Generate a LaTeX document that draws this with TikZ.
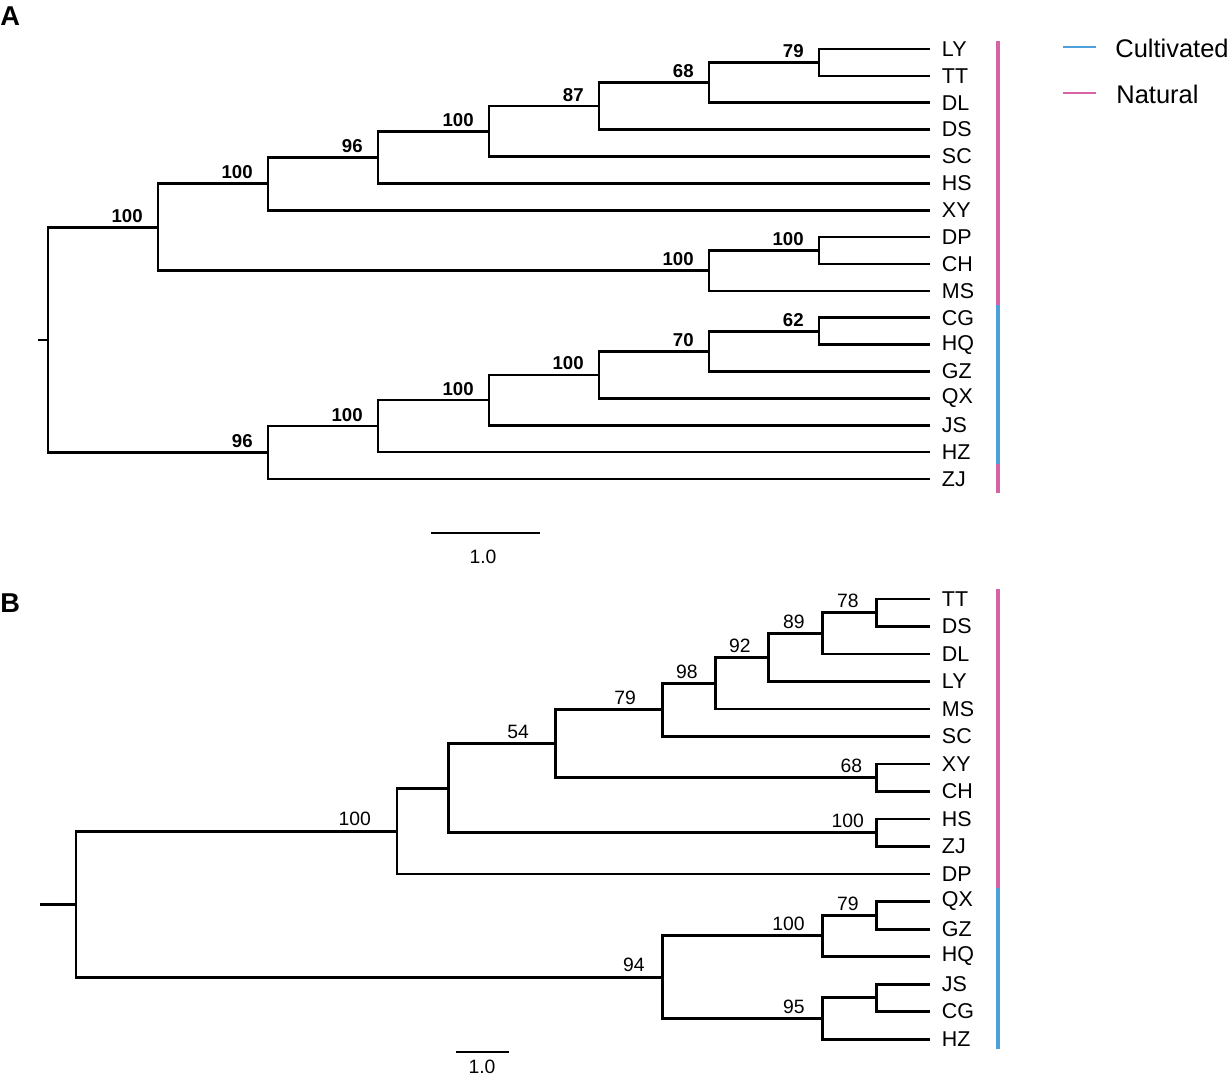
\documentclass[tikz,border=0pt]{standalone}
\usepackage{fontspec}
\setmainfont{Liberation Sans}
\usepackage{tikz}
\usetikzlibrary{calc}
\definecolor{cultblue}{RGB}{78,160,218}
\definecolor{natpink}{RGB}{214,98,168}
\tikzset{
  branch/.style={line width=1.5pt,line join=miter},
  leaf/.style={anchor=west,inner xsep=6.6pt,inner ysep=0pt,font=\fontsize{12.2}{14}\selectfont},
  boot/.style={anchor=south east,inner sep=2pt,xshift=-6pt,font=\bfseries\fontsize{10.6}{12}\selectfont},
  bootb/.style={anchor=south east,inner sep=2pt,xshift=-7pt,font=\fontsize{11}{12}\selectfont},
  panel/.style={anchor=west,inner sep=0pt,font=\bfseries\fontsize{15.5}{17}\selectfont},
  groupbar/.style={line width=2pt}
}
\begin{document}
\begin{tikzpicture}[x=0.02cm,y=-0.02cm]
\useasboundingbox (0,0) rectangle (1230,1077);
\node[panel] (pA) at (0,16) {A};
\node[panel] (pB) at (0,603) {B};
% tree A leaves
\foreach \nm [count=\i from 0] in {LY,TT,DL,DS,SC,HS,XY,DP,CH,MS,CG,HQ,GZ,QX,JS,HZ,ZJ}
\node[leaf] (a\nm) at (930,{49+26.875*\i}) {\nm};
% tree A inner nodes
\coordinate (a1) at (819,62.45);
\coordinate (a2) at (709,82.6);
\coordinate (a3) at (599,106.1);
\coordinate (a4) at (489,131.3);
\coordinate (a5) at (378,157.35);
\coordinate (a6) at (268,183.8);
\coordinate (a7) at (819,250.55);
\coordinate (a8) at (709,270.7);
\coordinate (a9) at (158,227.25);
\coordinate (a10) at (819,331.2);
\coordinate (a11) at (709,351.35);
\coordinate (a12) at (599,374.9);
\coordinate (a13) at (489,400.1);
\coordinate (a14) at (378,426.1);
\coordinate (a15) at (268,452.55);
\coordinate (aroot) at (48,339.9);
\coordinate (atick) at (38,339.9);
\draw[line width=1pt] (atick) -- (aroot);
\draw[branch] (aroot) |- (a9) node[boot] {100};
\draw[branch] (aroot) |- (a15) node[boot] {96};
\draw[branch] (a9) |- (a6) node[boot] {100};
\draw[branch] (a9) |- (a8) node[boot] {100};
\draw[branch] (a6) |- (a5) node[boot] {96};
\draw[branch] (a6) |- (aXY.west);
\draw[branch] (a5) |- (a4) node[boot] {100};
\draw[branch] (a5) |- (aHS.west);
\draw[branch] (a4) |- (a3) node[boot] {87};
\draw[branch] (a4) |- (aSC.west);
\draw[branch] (a3) |- (a2) node[boot] {68};
\draw[branch] (a3) |- (aDS.west);
\draw[branch] (a2) |- (a1) node[boot] {79};
\draw[branch] (a2) |- (aDL.west);
\draw[branch] (a1) |- (aLY.west);
\draw[branch] (a1) |- (aTT.west);
\draw[branch] (a8) |- (a7) node[boot] {100};
\draw[branch] (a8) |- (aMS.west);
\draw[branch] (a7) |- (aDP.west);
\draw[branch] (a7) |- (aCH.west);
\draw[branch] (a15) |- (a14) node[boot] {100};
\draw[branch] (a15) |- (aZJ.west);
\draw[branch] (a14) |- (a13) node[boot] {100};
\draw[branch] (a14) |- (aHZ.west);
\draw[branch] (a13) |- (a12) node[boot] {100};
\draw[branch] (a13) |- (aJS.west);
\draw[branch] (a12) |- (a11) node[boot] {70};
\draw[branch] (a12) |- (aQX.west);
\draw[branch] (a11) |- (a10) node[boot] {62};
\draw[branch] (a11) |- (aGZ.west);
\draw[branch] (a10) |- (aCG.west);
\draw[branch] (a10) |- (aHQ.west);
% scale A
\draw[line width=1.5pt] (431,533) -- (540,533);
\node[font=\fontsize{11}{12}\selectfont] (sA) at (483,557) {1.0};
% groups A
\draw[groupbar,natpink] (998,41) -- (998,305);
\draw[groupbar,cultblue] (998,305) -- (998,464);
\draw[groupbar,natpink] (998,464) -- (998,493);
% legend
\draw[line width=1.4pt,cultblue] (1063,47) -- (1096,47);
\node[anchor=west,inner sep=0pt,font=\fontsize{14.5}{16}\selectfont] (lcult) at (1115,48) {Cultivated};
\draw[line width=1.4pt,natpink] (1063,93) -- (1096,93);
\node[anchor=west,inner sep=0pt,font=\fontsize{14.5}{16}\selectfont] (lnat) at (1116,94) {Natural};
% tree B leaves
\foreach \nm [count=\i from 0] in {TT,DS,DL,LY,MS,SC,XY,CH,HS,ZJ,DP,QX,GZ,HQ,JS,CG,HZ}
\node[leaf] (b\nm) at (930,{599+27.5*\i}) {\nm};
% tree B inner nodes
\coordinate (b1) at (876,612.75);
\coordinate (b2) at (822,633.4);
\coordinate (b3) at (768,657.45);
\coordinate (b4) at (715,683.2);
\coordinate (b5) at (662,709.85);
\coordinate (b6) at (876,777.75);
\coordinate (b7) at (555,743.8);
\coordinate (b8) at (876,832.75);
\coordinate (b9) at (448,788.3);
\coordinate (b10) at (397,831.15);
\coordinate (b11) at (876,915.25);
\coordinate (b12) at (822,935.9);
\coordinate (b13) at (876,997.75);
\coordinate (b14) at (822,1018.4);
\coordinate (b15) at (662,977.15);
\coordinate (broot) at (76,904.15);
\coordinate (btick) at (40,904.15);
\begin{scope}[every path/.style={line width=1.7pt,line join=miter}]
\draw (btick) -- (broot);
\draw (broot) |- (b10) node[bootb,xshift=-5pt] {100};
\draw (broot) |- (b15) node[bootb] {94};
\draw (b10) |- (b9);
\draw (b10) |- (bDP.west);
\draw (b9) |- (b7) node[bootb,xshift=-5pt] {54};
\draw (b9) |- (b8) node[bootb,xshift=3pt] {100};
\draw (b7) |- (b5) node[bootb,xshift=-5pt] {79};
\draw (b7) |- (b6) node[bootb,xshift=2pt] {68};
\draw (b5) |- (b4) node[bootb] {98};
\draw (b5) |- (bSC.west);
\draw (b4) |- (b3) node[bootb] {92};
\draw (b4) |- (bMS.west);
\draw (b3) |- (b2) node[bootb] {89};
\draw (b3) |- (bLY.west);
\draw (b2) |- (b1) node[bootb] {78};
\draw (b2) |- (bDL.west);
\draw (b1) |- (bTT.west);
\draw (b1) |- (bDS.west);
\draw (b6) |- (bXY.west);
\draw (b6) |- (bCH.west);
\draw (b8) |- (bHS.west);
\draw (b8) |- (bZJ.west);
\draw (b15) |- (b12) node[bootb] {100};
\draw (b15) |- (b14) node[bootb] {95};
\draw (b12) |- (b11) node[bootb] {79};
\draw (b12) |- (bHQ.west);
\draw (b11) |- (bQX.west);
\draw (b11) |- (bGZ.west);
\draw (b14) |- (b13);
\draw (b14) |- (bHZ.west);
\draw (b13) |- (bJS.west);
\draw (b13) |- (bCG.west);
\end{scope}
% scale B
\draw[line width=1.5pt] (456,1052) -- (509,1052);
\node[font=\fontsize{11}{12}\selectfont] (sB) at (482,1067) {1.0};
% groups B
\draw[groupbar,natpink] (998,589) -- (998,888);
\draw[groupbar,cultblue] (998,888) -- (998,1049);
\end{tikzpicture}
\end{document}
